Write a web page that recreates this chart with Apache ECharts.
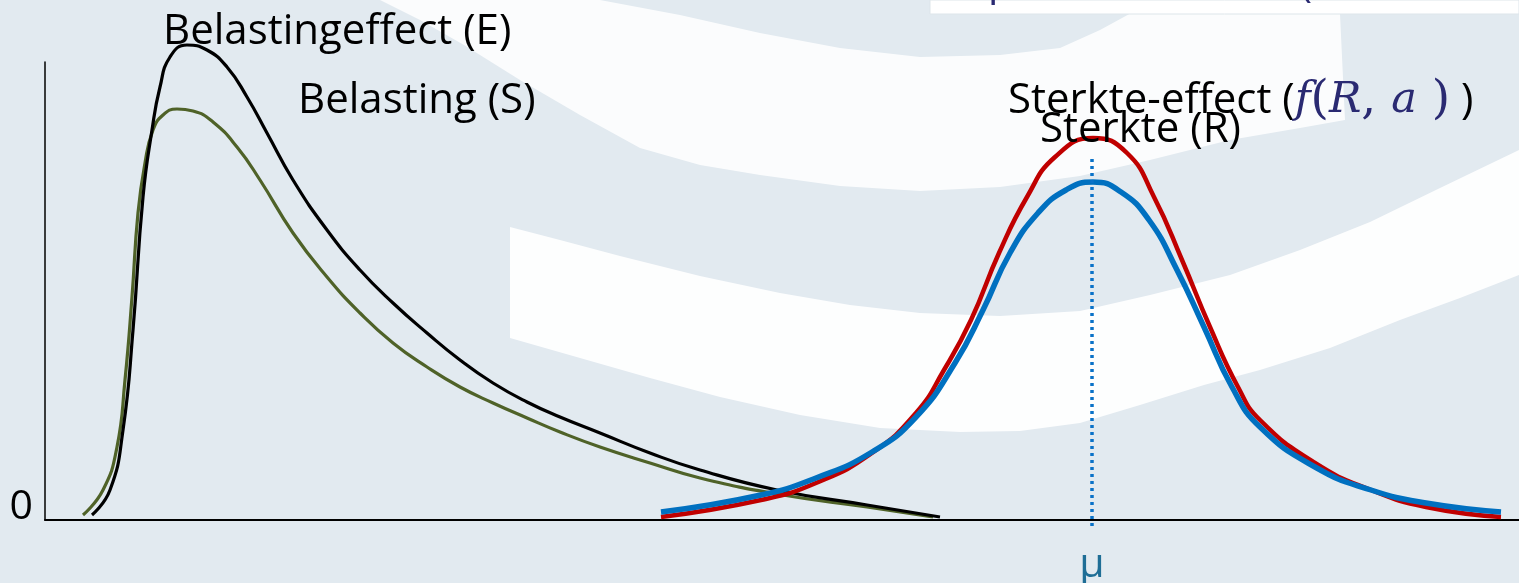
<!DOCTYPE html>
<html>
<head>
<meta charset="utf-8">
<script src="https://cdn.jsdelivr.net/npm/echarts@6/dist/echarts.min.js"></script>
<style>
html,body{margin:0;padding:0;background:#e2eaf0;}
#chart{width:1519px;height:583px;}
</style>
</head>
<body>
<div id="chart"></div>
<script>
// ---- data (arbitrary units) ----
// Belastingeffect (E) – black
const loadEffectX = [4.7, 6.5, 7.8, 8.8, 9.8, 10.7, 11.5, 12.5, 14.2, 16.2, 18.2, 20.2, 22.2, 24.8, 28.2, 31.5, 34.8, 38.2, 41.5, 44.8, 48.2, 51.5, 55.5, 60.5, 65.5, 73.2, 82.2, 89.5];
const loadEffectY = [0.5, 3.0, 9.0, 19.0, 32.3, 39.0, 43.3, 46.3, 47.5, 47.0, 45.3, 42.3, 38.7, 34.0, 29.0, 25.0, 21.7, 18.7, 16.0, 13.7, 11.8, 10.3, 8.7, 6.7, 5.0, 3.0, 1.5, 0.3];
// Belasting (S) – olive
const loadX = [3.8, 5.8, 7.2, 8.0, 8.7, 9.3, 10.0, 10.8, 11.8, 13.2, 14.8, 16.8, 19.2, 21.5, 24.8, 28.2, 31.5, 34.8, 38.2, 41.5, 44.8, 48.2, 51.5, 55.5, 60.5, 65.5, 73.8, 82.2, 88.8];
const loadY = [0.5, 3.0, 7.3, 14.0, 22.3, 30.7, 35.7, 39.0, 40.5, 41.1, 40.9, 39.8, 37.3, 34.0, 28.7, 24.3, 20.7, 17.7, 15.3, 13.3, 11.7, 10.2, 8.8, 7.3, 5.7, 4.2, 2.5, 1.3, 0.3];
// Sterkte-effect – red
const strengthEffectX = [61.6, 71.6, 77.1, 82.7, 87.1, 89.9, 92.6, 95.4, 98.2, 101.0, 104.8, 108.2, 110.9, 113.7, 116.5, 119.3, 121.5, 127.0, 132.6, 138.1, 145.6];
const strengthEffectY = [0.3, 2.0, 3.7, 6.7, 10.7, 15.0, 20.0, 26.7, 32.3, 36.3, 38.2, 36.7, 32.3, 26.0, 19.3, 13.3, 10.0, 5.7, 3.0, 1.3, 0.3];
// Sterkte (R) – blue
const strengthX = [61.6, 71.6, 77.1, 82.7, 87.1, 91.0, 93.8, 96.5, 99.3, 102.1, 104.8, 107.6, 110.4, 113.2, 115.9, 118.7, 121.5, 127.0, 132.6, 138.1, 145.6];
const strengthY = [0.8, 2.5, 4.2, 6.8, 10.3, 15.7, 21.0, 26.7, 30.7, 33.0, 33.8, 32.8, 30.0, 25.0, 19.3, 13.3, 9.3, 5.3, 3.0, 1.7, 0.8];
// mean of the strength, dotted marker
const muValue = 104.7;
const muTop = 36.1;
const muBottom = -1.0;
const muLabel = 'μ';
const yTickLabels = {0: '0'};
const xMax = 147.4;
const yMax = 45.8;

function zip(xs, ys) { return xs.map((x, i) => [x, ys[i]]); }

const FONT = 'Open Sans';
const chart = echarts.init(document.getElementById('chart'));

// decorative background waves (pixel layout)
const waveLower = [[510,227],[560,240],[620,256],[700,276],[780,293],[850,305],[920,313],[1000,316],[1080,311],[1150,295],[1230,275],[1300,250],[1370,222],[1440,188],[1519,150],
  [1519,275],[1460,298],[1400,320],[1330,348],[1260,370],[1204,385],[1140,405],[1080,423],[1020,431],[960,432],[880,428],[800,415],[720,397],[650,378],[580,358],[510,338]];
const waveUpper = [[380,0],[600,0],[680,15],[760,33],[840,48],[920,57],[1000,55],[1060,48],[1100,30],[1133,12],[1300,12],[1340,14],[1345,120],
  [1300,128],[1230,140],[1150,160],[1080,176],[1000,187],[920,191],[840,186],[760,175],[700,165],[640,148],[580,115],[520,80],[464,45],[420,20]];

const SMOOTH = 0.5;
const option = {
  backgroundColor: '#e2eaf0',
  animation: false,
  grid: {left: 45, right: 0, top: 62, bottom: 63, containLabel: false},
  xAxis: {
    type: 'value', min: 0, max: xMax,
    axisLine: {show: true, onZero: false, lineStyle: {color: '#000', width: 2}},
    axisTick: {show: false}, axisLabel: {show: false}, splitLine: {show: false}
  },
  yAxis: {
    type: 'value', min: 0, max: yMax, interval: yMax,
    axisLine: {show: true, lineStyle: {color: '#000', width: 1.5}},
    axisTick: {show: false}, splitLine: {show: false},
    axisLabel: {
      show: true, margin: 12, color: '#000', fontFamily: FONT, fontSize: 41,
      verticalAlign: 'bottom', lineHeight: 26,
      formatter: v => (yTickLabels[v] !== undefined ? yTickLabels[v] : '')
    }
  },
  graphic: [
    {type: 'polygon', z: 0, silent: true, shape: {points: waveLower}, style: {fill: '#ffffff', opacity: 0.92}},
    {type: 'polygon', z: 0, silent: true, shape: {points: waveUpper}, style: {fill: '#ffffff', opacity: 0.85}},
    {type: 'rect', z: 1, silent: true, shape: {x: 930, y: 0, width: 589, height: 14},
     style: {fill: '#ffffff', stroke: '#dde5ea', lineWidth: 1}},
    {type: 'text', z: 2, silent: true, x: 988, y: -37,
     style: {text: 'p', fill: '#2a2a72', font: '41px "Open Sans"', verticalAlign: 'top'}},
    {type: 'text', z: 2, silent: true, x: 1300, y: -35,
     style: {text: '(', fill: '#2a2a72', font: '41px "Open Sans"', verticalAlign: 'top'}},
    {type: 'text', z: 10, silent: true, x: 163, y: 32,
     style: {text: 'Belastingeffect (E)', fill: '#000', font: '42px "Open Sans"', verticalAlign: 'middle'}},
    {type: 'text', z: 10, silent: true, x: 298, y: 101,
     style: {text: 'Belasting (S)', fill: '#000', font: '42px "Open Sans"', verticalAlign: 'middle'}},
    {type: 'text', z: 10, silent: true, x: 1008, y: 101,
     style: {
       text: '{b|Sterkte-effect (}{mi|f}{mu|(}{mi|R}{mu|, }{mi|a}{mu| )}{b| )}',
       verticalAlign: 'middle',
       rich: {
         b: {fill: '#000', fontFamily: FONT, fontSize: 42},
         mi: {fill: '#2a2a72', fontFamily: 'DejaVu Serif', fontStyle: 'italic', fontSize: 43},
         mu: {fill: '#2a2a72', fontFamily: 'DejaVu Serif', fontSize: 47}
       }
     }},
    {type: 'text', z: 10, silent: true, x: 1040, y: 130,
     style: {text: 'Sterkte (R)', fill: '#000', font: '42px "Open Sans"', verticalAlign: 'middle'}}
  ],
  series: [
    {name: 'Belasting (S)', type: 'line', data: zip(loadX, loadY), smooth: SMOOTH, showSymbol: false, clip: false,
     lineStyle: {color: '#4f6228', width: 3.2}, z: 3},
    {name: 'Belastingeffect (E)', type: 'line', data: zip(loadEffectX, loadEffectY), smooth: SMOOTH, showSymbol: false, clip: false,
     lineStyle: {color: '#000000', width: 3.2}, z: 4},
    {name: 'Sterkte-effect', type: 'line', data: zip(strengthEffectX, strengthEffectY), smooth: SMOOTH, showSymbol: false, clip: false,
     lineStyle: {color: '#c00000', width: 4.5}, z: 5},
    {name: 'Sterkte (R)', type: 'line', data: zip(strengthX, strengthY), smooth: SMOOTH, showSymbol: false, clip: false,
     lineStyle: {color: '#0070c0', width: 5.5}, z: 6},
    {name: 'μ', type: 'line', data: [[muValue, muTop], [muValue, muBottom]], showSymbol: false, clip: false, silent: true,
     lineStyle: {color: '#0a72c8', width: 3.5, type: [3, 4]}, z: 7,
     markPoint: {
       silent: true, symbol: 'rect', symbolSize: 0.1,
       label: {show: true, position: 'bottom', distance: 25, formatter: muLabel, color: '#1f6e96',
               fontFamily: FONT, fontSize: 41, lineHeight: 41},
       data: [{coord: [muValue, 0]}]
     }}
  ]
};
chart.setOption(option);
</script>
</body>
</html>
